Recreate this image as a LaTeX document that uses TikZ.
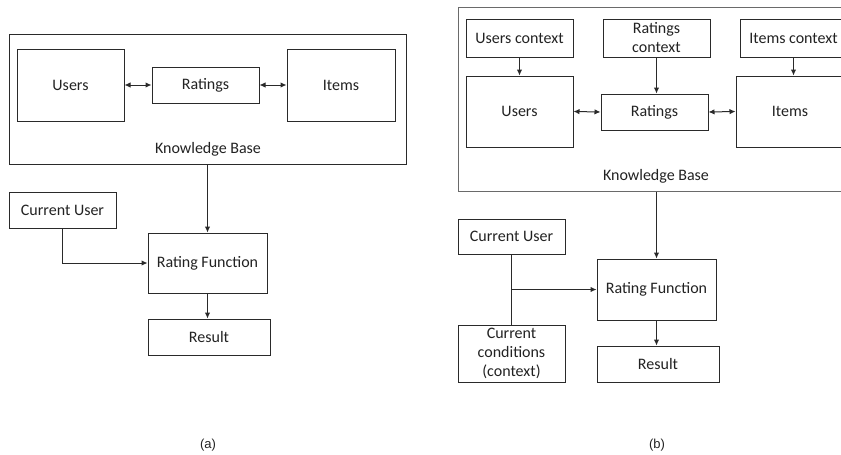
\documentclass[tikz,border=0pt]{standalone}
\usepackage{fontspec}
\setmainfont{Carlito}
\newfontfamily\capfont{Liberation Sans}
\usetikzlibrary{arrows.meta}
\definecolor{boxline}{HTML}{2A2A2A}
\definecolor{kbline}{HTML}{6A6A6A}
\definecolor{txt}{HTML}{222222}
\tikzset{
  box/.style={draw=boxline, line width=1pt, inner sep=0pt, align=center,
              text=txt, font=\fontsize{16}{19}\selectfont},
  kbox/.style={draw=boxline, line width=1pt, inner sep=0pt},
  lbl/.style={inner sep=0pt, text=txt, font=\fontsize{16}{19}\selectfont},
  sublabel/.style={inner sep=0pt, text=txt, font=\capfont\fontsize{13}{15}\selectfont},
  conn/.style={draw=boxline, line width=1pt},
  arr/.style={conn, -{Latex[length=6pt,width=5.5pt]}},
  darr/.style={conn, {Latex[length=6pt,width=5.5pt]}-{Latex[length=6pt,width=5.5pt]}}
}
\begin{document}
\begin{tikzpicture}[x=1pt,y=-1pt]
\useasboundingbox (0,0) rectangle (841,455);
\clip (0,0) rectangle (841,455);

% ---------- (a) classic recommender ----------
\node[kbox, minimum width=397, minimum height=130] (kbA) at (207.5,99) {};
\node[lbl] (kbAlbl) at (208,149.5) {Knowledge Base};
\node[box, minimum width=107, minimum height=72] (uA) at (70.5,85) {Users};
\node[box, minimum width=107, minimum height=36] (rA) at (205.5,85) {Ratings};
\node[box, minimum width=108, minimum height=72] (iA) at (341,85) {Items};
\node[box, minimum width=107, minimum height=36] (cuA) at (62.5,210) {Current User};
\node[box, minimum width=119, minimum height=60] (rfA) at (207.5,263) {Rating Function};
\node[box, minimum width=122, minimum height=36] (resA) at (209,337) {Result};

\draw[darr] (uA.east) -- (rA.west);
\draw[darr] (rA.east) -- (iA.west);
\draw[arr] (rfA.north |- kbA.south) -- (rfA.north);
\draw[arr] (cuA.south) -- (cuA.south |- rfA.west) -- (rfA.west);
\draw[arr] (rfA.south) -- (rfA.south |- resA.north);

\node[sublabel] (capA) at (208,445) {(a)};

% ---------- (b) context-aware recommender ----------
\node[kbox, draw=kbline, minimum width=402, minimum height=184] (kbB) at (659,99) {};
\node[lbl] (kbBlbl) at (656,176.5) {Knowledge Base};
\node[box, minimum width=107, minimum height=38] (ucB) at (519.5,38) {Users context};
\node[box, minimum width=107, minimum height=38] (rcB) at (656.5,38) {Ratings\\context};
\node[box, minimum width=107, minimum height=38] (icB) at (793.5,38) {Items context};
\node[box, minimum width=107, minimum height=71] (uB) at (519.5,111.5) {Users};
\node[box, minimum width=107, minimum height=36] (rB) at (654.5,112) {Ratings};
\node[box, minimum width=108, minimum height=71] (iB) at (790,111.5) {Items};
\node[box, minimum width=107, minimum height=35] (cuB) at (511.5,236.5) {Current User};
\node[box, minimum width=107, minimum height=57] (ccB) at (511.5,353.5) {Current\\conditions\\(context)};
\node[box, minimum width=119, minimum height=61] (rfB) at (656.5,289.5) {Rating Function};
\node[box, minimum width=122, minimum height=36] (resB) at (658,364) {Result};

\draw[arr] (ucB.south) -- (ucB.south |- uB.north);
\draw[arr] (rcB.south) -- (rcB.south |- rB.north);
\draw[arr] (icB.south) -- (icB.south |- iB.north);
\draw[darr] (uB.east) -- (rB.west);
\draw[darr] (rB.east) -- (iB.west);
\draw[arr] (rfB.north |- kbB.south) -- (rfB.north);
\draw[conn] (cuB.south) -- (ccB.north);
\coordinate (jB) at (cuB.south |- rfB.west);
\draw[arr] (jB) -- (rfB.west);
\draw[arr] (rfB.south) -- (rfB.south |- resB.north);

\node[sublabel] (capB) at (657,445) {(b)};
\end{tikzpicture}
\end{document}
